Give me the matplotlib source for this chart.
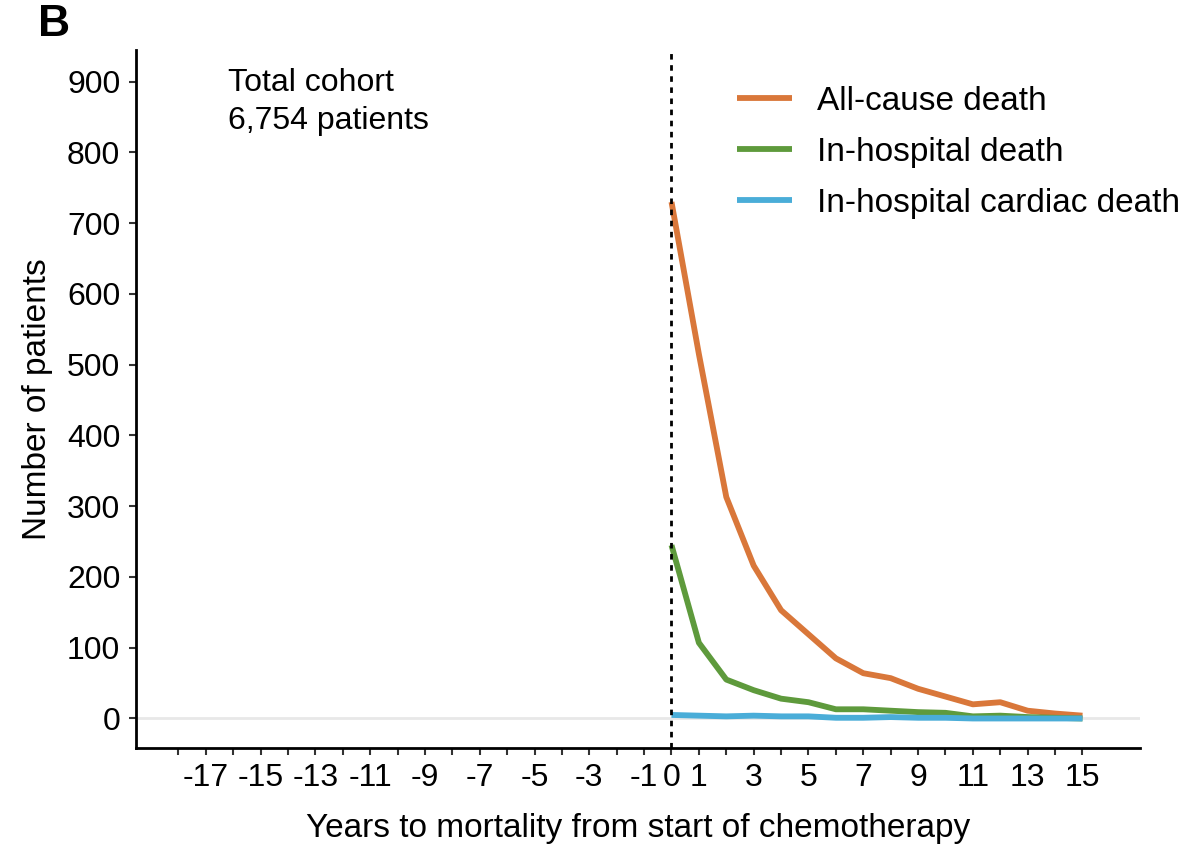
import numpy as np
import matplotlib.pyplot as plt

years = list(range(0, 16))
all_cause = [730, 515, 313, 216, 153, 119, 85, 64, 57, 42, 31, 20, 23, 11, 7, 4]
in_hospital = [245, 107, 55, 40, 28, 23, 13, 13, 11, 9, 8, 3, 4, 2, 1, 0]
cardiac = [5, 4, 3, 4, 3, 3, 1, 1, 2, 1, 1, 0, 0, 0, 0, 0]

series_labels = ['All-cause death', 'In-hospital death', 'In-hospital cardiac death']
series_colors = ['#D9773A', '#5E9A3C', '#4AADD8']

tick_positions = list(range(-18, 16))
tick_labels = [str(t) if (t % 2 != 0 or t == 0) else '' for t in tick_positions]

plt.rcParams.update({'font.family': ['Liberation Sans', 'DejaVu Sans'],
                     'font.size': 23})

fig = plt.figure(figsize=(12, 8.6), dpi=100)
ax = fig.add_axes([0.113, 0.130, 0.837, 0.812])

ax.axhline(0, color='#e8e8e8', lw=2, zorder=1)
for vals, lab, col in zip([all_cause, in_hospital, cardiac], series_labels, series_colors):
    ax.plot(years, vals, color=col, lw=4.2, label=lab, zorder=3, solid_capstyle='butt')
ax.axvline(0, color='black', lw=2, linestyle=(0, (2, 2)), zorder=4)

ax.set_xlim(-19.56, 17.1)
ax.set_ylim(-42, 945)
ax.set_xticks(tick_positions)
ax.set_xticklabels(tick_labels)
ax.set_yticks(np.arange(0, 901, 100))
ax.tick_params(axis='both', length=5, width=1.5, color='#333333', labelsize=23, pad=6)

for s in ['top', 'right']:
    ax.spines[s].set_visible(False)
for s in ['left', 'bottom']:
    ax.spines[s].set_linewidth(2)

ax.set_ylabel('Number of patients', fontsize=24, labelpad=10)
ax.set_xlabel('Years to mortality from start of chemotherapy', fontsize=24, labelpad=14)

ax.text(-16.2, 920, 'Total cohort\n6,754 patients', fontsize=23, va='top', ha='left',
        linespacing=1.35)

ax.legend(loc='upper left', bbox_to_anchor=(0.585, 0.968), frameon=False, fontsize=24,
          handlelength=1.65, handletextpad=0.75, labelspacing=0.6, borderaxespad=0)

fig.text(0.032, 0.995, 'B', fontsize=32, fontweight='bold', va='top', ha='left')

fig.savefig('out.png', dpi=100)
